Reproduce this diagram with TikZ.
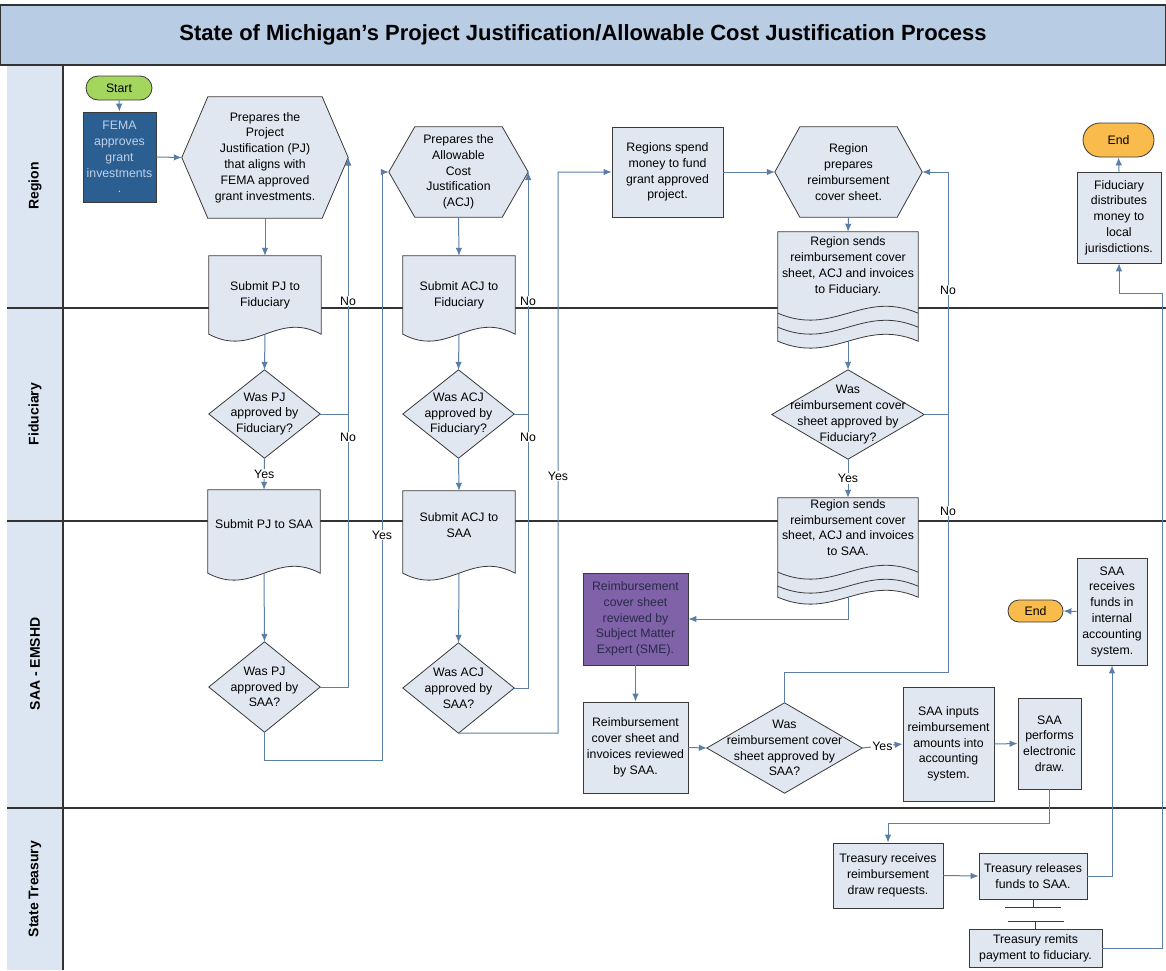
\documentclass[tikz,border=0pt]{standalone}
\usepackage{fontspec}
\setmainfont{Liberation Sans}
\usetikzlibrary{arrows.meta,calc,shapes.misc}
\pgfdeclarelayer{lanes}
\pgfdeclarelayer{shapes}
\pgfsetlayers{lanes,shapes,main}

\definecolor{titlefill}{HTML}{B8CCE4}
\definecolor{lanefill}{HTML}{DCE6F2}
\definecolor{nodefill}{HTML}{E1E7F1}
\definecolor{bordercol}{HTML}{3A3A3A}
\definecolor{lanecol}{HTML}{333333}
\definecolor{linecol}{HTML}{5A7EA6}
\definecolor{femablue}{HTML}{2B5E91}
\definecolor{ftext}{HTML}{BFD0E6}
\definecolor{smepurple}{HTML}{7F62A8}
\definecolor{smetext}{HTML}{2A2A4A}
\definecolor{startgreen}{HTML}{A4D65E}
\definecolor{endorange}{HTML}{F8BB4C}

\tikzset{
  nfont/.style={font=\fontsize{12.3}{15.8}\selectfont},
  area/.style={inner sep=0pt, align=center, nfont},
  box/.style={area, draw=bordercol, fill=nodefill, line width=0.8pt},
  shp/.style={draw=bordercol, fill=nodefill, line width=0.8pt},
  shpline/.style={draw=bordercol, line width=0.8pt},
  term/.style={box, rounded rectangle},
  flow/.style={draw=linecol, line width=1pt, -{Latex[length=8pt,width=6.5pt]}},
  link/.style={draw=linecol, line width=1pt},
  lbl/.style={fill=white, inner sep=1pt, nfont},
  lane/.style={draw=lanecol, line width=1.2pt},
  lanetitle/.style={font=\bfseries\fontsize{14}{16}\selectfont, rotate=90},
  eqline/.style={draw=bordercol, line width=1pt},
}

\newcommand\hexpath[2]{%
  \path[shp] (#1.west) -- ([xshift=#2]#1.north west) -- ([xshift=-#2]#1.north east)
    -- (#1.east) -- ([xshift=-#2]#1.south east) -- ([xshift=#2]#1.south west) -- cycle;}
\newcommand\diapath[1]{%
  \path[shp] (#1.north) -- (#1.east) -- (#1.south) -- (#1.west) -- cycle;}
\newcommand\docpath[2]{%
  \coordinate (#1-bl) at ([yshift=-#2]#1.south west);
  \coordinate (#1-br) at ([yshift=-#2]#1.south east);
  \coordinate (#1-b) at ([yshift=-#2]#1.south);
  \path[shp] (#1.north west) -- (#1.north east) -- (#1-br)
    .. controls ($(#1-br)!0.4!(#1-bl)+(0,24pt)$) and ($(#1-br)!0.6!(#1-bl)+(0,-24pt)$) .. (#1-bl) -- cycle;}
\newcommand\docwave[2]{%
  \draw[shpline] ([yshift=-#2]#1.south west)
    .. controls ($([yshift=-#2]#1.south west)!0.4!([yshift=-#2]#1.south east)+(0,-24pt)$)
    and ($([yshift=-#2]#1.south west)!0.6!([yshift=-#2]#1.south east)+(0,24pt)$)
    .. ([yshift=-#2]#1.south east);}

\begin{document}
\begin{tikzpicture}[x=1pt,y=1pt]
\useasboundingbox (0,0) rectangle (1166,-970);

% ---------- swimlane frame ----------
\begin{pgfonlayer}{lanes}
  \fill[white] (0,0) rectangle (1166,-970);
  \fill[lanefill] (7,-65) rectangle (63,-970);
  \node[draw=lanecol, line width=1.2pt, fill=titlefill, minimum width=1166pt, minimum height=60pt,
        inner sep=0pt, font=\bfseries\fontsize{22}{25}\selectfont] (title) at (583,-35)
        {State of Michigan’s Project Justification/Allowable Cost Justification Process};
  \draw[lane] (63,-65) -- (63,-970);
  \draw[lane] (7,-308) -- (1166,-308);
  \draw[lane] (7,-521) -- (1166,-521);
  \draw[lane] (7,-808) -- (1166,-808);
  \node[lanetitle] (lRegion) at (35,-186) {Region};
  \node[lanetitle] (lFid) at (35,-414) {Fiduciary};
  \node[lanetitle] (lSAA) at (35,-664) {SAA - EMSHD};
  \node[lanetitle] (lTreas) at (35,-889) {State Treasury};
\end{pgfonlayer}

% ---------- nodes ----------
\node[term, fill=startgreen, minimum width=66pt, minimum height=24pt] (start) at (119,-88) {Start};
\node[box, fill=femablue, text=ftext, minimum width=73pt, minimum height=90pt] (fema) at (119.5,-157)
  {FEMA\\approves\\grant\\investments\\.};

\node[area, minimum width=166pt, minimum height=121pt] (hexA) at (265,-157.5)
  {Prepares the\\Project\\Justification (PJ)\\that aligns with\\FEMA approved\\grant investments.};
\node[area, minimum width=112pt, minimum height=78pt] (docA) at (265,-295) {Submit PJ to\\Fiduciary};
\node[area, minimum width=111pt, minimum height=88pt] (dA1) at (264.5,-414) {Was PJ\\approved by\\Fiduciary?};
\node[area, minimum width=112pt, minimum height=68pt] (docB) at (264,-524) {Submit PJ to SAA};
\node[area, minimum width=111pt, minimum height=90pt] (dA2) at (264.5,-687) {Was PJ\\approved by\\SAA?};

\node[area, minimum width=139pt, minimum height=90pt] (hexB) at (458.5,-172)
  {Prepares the\\Allowable\\Cost\\Justification\\(ACJ)};
\node[area, minimum width=112pt, minimum height=78pt] (docC) at (459,-295) {Submit ACJ to\\Fiduciary};
\node[area, minimum width=111pt, minimum height=88pt] (dB1) at (458.5,-414) {Was ACJ\\approved by\\Fiduciary?};
\node[area, minimum width=112pt, minimum height=68pt] (docD) at (459,-525) {Submit ACJ to\\SAA};
\node[area, minimum width=111pt, minimum height=90pt] (dB2) at (458.5,-688) {Was ACJ\\approved by\\SAA?};

\node[box, minimum width=111pt, minimum height=90pt] (spend) at (667.5,-172)
  {Regions spend\\money to fund\\grant approved\\project.};
\node[area, minimum width=147pt, minimum height=90pt] (hexC) at (848.5,-172)
  {Region\\prepares\\reimbursement\\cover sheet.};
\node[area, minimum width=140pt, minimum height=69pt] (docE) at (848,-266.5)
  {Region sends\\reimbursement cover\\sheet, ACJ and invoices\\to Fiduciary.};
\node[area, minimum width=152pt, minimum height=89pt] (dC1) at (848,-414.5)
  {Was\\reimbursement cover\\sheet approved by\\Fiduciary?};
\node[area, minimum width=140pt, minimum height=59pt] (docF) at (848,-527.5)
  {Region sends\\reimbursement cover\\sheet, ACJ and invoices\\to SAA.};

\node[box, fill=smepurple, text=smetext, minimum width=105pt, minimum height=92pt] (sme) at (635.5,-619)
  {Reimbursement\\cover sheet\\reviewed by\\Subject Matter\\Expert (SME).};
\node[box, minimum width=105pt, minimum height=91pt] (rev) at (635.5,-747.5)
  {Reimbursement\\cover sheet and\\invoices reviewed\\by SAA.};
\node[area, minimum width=155pt, minimum height=90pt] (dC2) at (784.5,-748)
  {Was\\reimbursement cover\\sheet approved by\\SAA?};
\node[box, minimum width=91pt, minimum height=114pt] (inp) at (948.5,-744)
  {SAA inputs\\reimbursement\\amounts into\\accounting\\system.};
\node[box, minimum width=63pt, minimum height=91pt] (perf) at (1049.5,-743.5)
  {SAA\\performs\\electronic\\draw.};
\node[box, minimum width=70pt, minimum height=107pt] (srecv) at (1112,-611.5)
  {SAA\\receives\\funds in\\internal\\accounting\\system.};
\node[term, fill=endorange, minimum width=55pt, minimum height=22pt] (endB) at (1035.5,-611) {End};
\node[term, fill=endorange, minimum width=71pt, minimum height=34pt] (endA) at (1118.5,-140) {End};
\node[box, minimum width=84pt, minimum height=91pt] (fdist) at (1119,-217.5)
  {Fiduciary\\distributes\\money to\\local\\jurisdictions.};

\node[box, minimum width=110pt, minimum height=65pt] (trecv) at (888,-875.5)
  {Treasury receives\\reimbursement\\draw requests.};
\node[box, minimum width=108pt, minimum height=46pt] (trel) at (1033,-876)
  {Treasury releases\\funds to SAA.};
\node[box, minimum width=133pt, minimum height=38pt] (trem) at (1035.5,-948)
  {Treasury remits\\payment to fiduciary.};

% ---------- shape outlines ----------
\begin{pgfonlayer}{shapes}
  \hexpath{hexA}{26pt}
  \hexpath{hexB}{26pt}
  \hexpath{hexC}{25pt}
  \diapath{dA1}\diapath{dA2}\diapath{dB1}\diapath{dB2}\diapath{dC1}\diapath{dC2}
  \docpath{docA}{0pt}
  \docpath{docB}{15pt}
  \docpath{docC}{0pt}
  \docpath{docD}{14pt}
  \docpath{docE}{40pt}\docwave{docE}{12pt}\docwave{docE}{26pt}
  \docpath{docF}{40pt}\docwave{docF}{15pt}\docwave{docF}{29pt}
\end{pgfonlayer}

% ---------- connectors ----------
\draw[flow] (start.south) -- (fema.north);
\draw[flow] (fema.east) -- (hexA.west);
\draw[flow] (hexA.south) -- (docA.north);
\draw[flow] (docA-b) -- (dA1.north);
\draw[flow] (dA1.south) -- node[lbl] (yesA1) {Yes} (docB.north);
\draw[flow] (docB-b) -- (dA2.north);
\draw[link] (dA1.east) -- (dA1.east -| hexA.east);
\draw[flow] (dA2.east) -| (hexA.east);
\node[lbl] (noA1) at (348,-437) {No};
\node[lbl] (noA2) at (348,-301) {No};
\coordinate (yA) at (382,-760);
\draw[flow] (dA2.south) |- (yA) |- (hexB.west);
\node[lbl] (yesA2) at (382,-535) {Yes};

\draw[flow] (hexB.south) -- (docC.north);
\draw[flow] (docC-b) -- (dB1.north);
\draw[flow] (dB1.south) -- (docD.north);
\draw[flow] (docD-b) -- (dB2.north);
\draw[link] (dB1.east) -- (dB1.east -| hexB.east);
\draw[flow] (dB2.east) -| (hexB.east);
\node[lbl] (noB1) at (528,-437) {No};
\node[lbl] (noB2) at (528,-301) {No};
\coordinate (yB) at (558,-733);
\draw[flow] (dB2.south) -- (yB) |- (spend.west);
\node[lbl] (yesB) at (558,-476) {Yes};

\draw[flow] (spend.east) -- (hexC.west);
\draw[flow] (hexC.south) -- (docE.north);
\draw[flow] (docE-b) -- (dC1.north);
\draw[flow] (dC1.south) -- node[lbl] (yesC1) {Yes} (docF.north);
\coordinate (cNo) at (948,-672);
\draw[link] (dC1.east) -- (dC1.east -| cNo);
\draw[flow] (dC2.north) |- (cNo) |- (hexC.east);
\node[lbl] (noC1) at (948,-290) {No};
\node[lbl] (noC2) at (948,-511) {No};
\draw[flow] (docF-b) |- (sme.east);
\draw[flow] (sme.south) -- (rev.north);
\draw[flow] (rev.east) -- (dC2.west);
\draw[flow] (dC2.east) -- node[lbl] (yesC2) {Yes} (inp.west);
\draw[flow] (inp.east) -- (perf.west);
\coordinate (cT) at (1049.5,-823);
\draw[flow] (perf.south) -- (cT) -| (trecv.north);
\draw[flow] (trecv.east) -- (trel.west);
\draw[flow] (trel.east) -| (srecv.south);
\draw[flow] (srecv.west) -- (endB.east);
\coordinate (cF) at (1162,-293);
\draw[flow] (trem.east) -| (cF) -| (fdist.south);
\draw[flow] (fdist.north) -- (endA.south);

% parallel-bar link between treasury boxes
\coordinate (eq1) at ($(trel.south)+(0,-8)$);
\coordinate (eq2) at ($(trem.north)+(0,7)$);
\draw[eqline] (trel.south) -- (eq1);
\draw[eqline] ($(eq1)+(-28,0)$) -- ($(eq1)+(28,0)$);
\draw[eqline] ($(eq2)+(-28,0)$) -- ($(eq2)+(28,0)$);
\draw[eqline] (eq2) -- (trem.north);
\end{tikzpicture}
\end{document}
